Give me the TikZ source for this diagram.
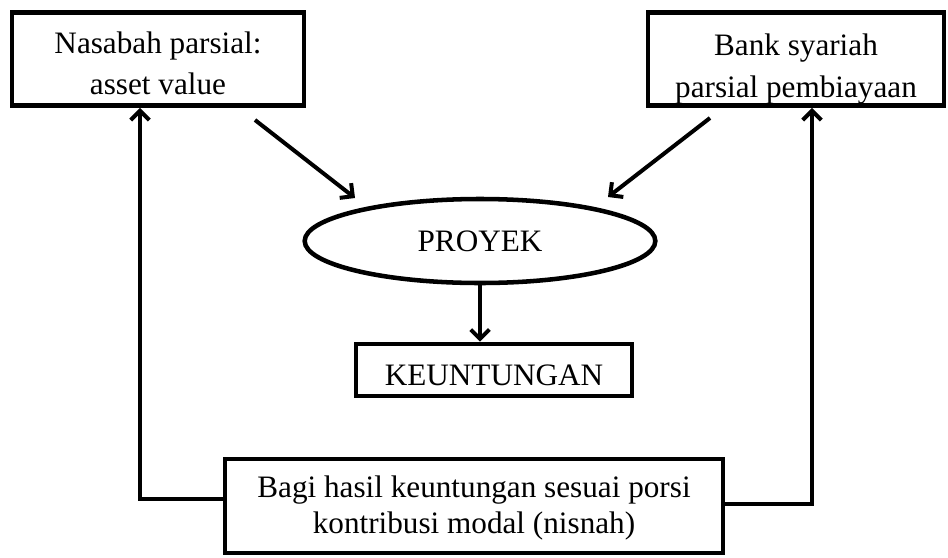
\documentclass[tikz,border=0pt]{standalone}
\usepackage{fontspec}
\setmainfont{Liberation Serif}
\usetikzlibrary{arrows.meta, shapes.geometric}
\newcommand{\atas}[1]{\rule{0pt}{#1}}
\newcommand{\bawah}[1]{\rule[-#1]{0pt}{#1}}
\begin{document}
\begin{tikzpicture}[x=0.75pt, y=-0.75pt,
                every node/.style = {font=\fontsize{23.4}{31}\selectfont, align=center, line width=3.4pt},
                kotak/.style = {draw, rectangle, inner sep=0pt},
                panah/.style = {line width=3pt, -{Straight Barb[length=7pt,width=14pt]}}
            ]
            \useasboundingbox (0,0) rectangle (948,557);
            \node[kotak, minimum width=219pt, minimum height=70pt, font=\fontsize{23.4}{30.75}\selectfont] (nasabah) at (158,59)
                {\atas{27.75pt}Nasabah parsial:\\asset value\bawah{6pt}};
            \node[kotak, minimum width=222pt, minimum height=70pt, font=\fontsize{23.4}{31.5}\selectfont] (bank) at (796,59)
                {\atas{31.5pt}Bank syariah\\parsial pembiayaan\bawah{6pt}};
            \node[draw, ellipse, minimum width=263pt, minimum height=63pt, inner sep=0pt] (proyek) at (480,241) {PROYEK};
            \node[kotak, minimum width=207pt, minimum height=39pt] (untung) at (494,370)
                {\atas{28.5pt}KEUNTUNGAN\bawah{6pt}};
            \node[kotak, minimum width=373.5pt, minimum height=70.5pt, font=\fontsize{23.4}{27}\selectfont] (bagi) at (474,506)
                {\atas{19.5pt}Bagi hasil keuntungan sesuai porsi\\kontribusi modal (nisnah)\bawah{6pt}};
            \coordinate (kiri) at (255,120);
            \coordinate (kanan) at (710,118);
            \draw[panah] (kiri) -- (355,198);
            \draw[panah] (kanan) -- (608,197);
            \draw[panah] (proyek.south) -- (proyek.south |- untung.north);
            \draw[panah] ([yshift=5.25pt]bagi.west) -| ([xshift=-13.5pt]nasabah.south);
            \draw[panah] ([yshift=1.5pt]bagi.east) -| ([xshift=12pt]bank.south);
        \end{tikzpicture}
\end{document}
